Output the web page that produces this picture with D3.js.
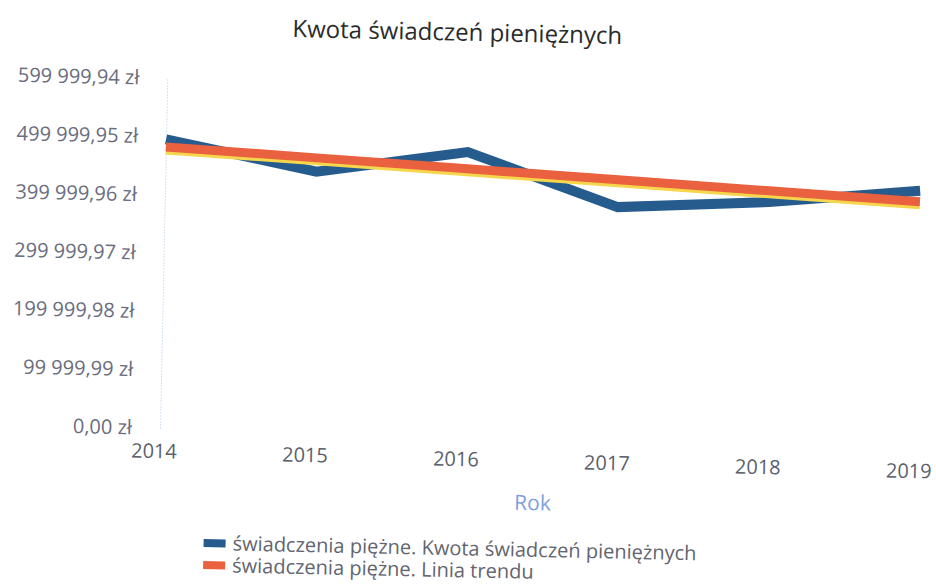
<!DOCTYPE html>
<html>
<head>
<meta charset="utf-8">
<script src="https://cdn.jsdelivr.net/npm/d3@7"></script>
<style>
  html, body { margin: 0; padding: 0; background: #fff; }
  svg { display: block; font-family: 'Open Sans', 'Noto Sans', sans-serif; }
</style>
</head>
<body>
<svg id="chart" width="936" height="585"></svg>
<script>
const years = [2014, 2015, 2016, 2017, 2018, 2019];
const kwota = [495000, 445000, 484000, 395000, 409000, 434000];
const trend = [482000, 468600, 455200, 441800, 428400, 415000];
const yTicks = [0, 99999.99, 199999.98, 299999.97, 399999.96, 499999.95, 599999.94];

const chartTitle = 'Kwota świadczeń pieniężnych';
const xTitle = 'Rok';
const legendLabels = [
  'świadczenia piężne. Kwota świadczeń pieniężnych',
  'świadczenia piężne. Linia trendu'
];

const blue = '#255b8d';
const orange = '#e9613f';

const pl = d3.formatLocale({
  decimal: ',',
  thousands: ' ',
  grouping: [3],
  currency: ['', ' zł']
});
const fmt = pl.format('$,.2f');

const svg = d3.select('#chart');

// the scan is tilted a bit, so the whole chart is turned round the origin
const root = svg.append('g').attr('transform', 'rotate(1.2,160,428)');

const xScale = d3.scaleLinear().domain([2014, 2019]).range([160, 915]);
const yScale = d3.scaleLinear().domain([0, 599999.94]).range([428, 78]);

root.append('text')
  .attr('x', 449)
  .attr('y', 26)
  .attr('dy', '0.35em')
  .attr('text-anchor', 'middle')
  .attr('font-size', 24)
  .attr('fill', '#2b2b2b')
  .text(chartTitle);

// y axis
const yAxis = d3.axisLeft(yScale)
  .tickValues(yTicks)
  .tickFormat(fmt)
  .tickSize(0)
  .tickPadding(28);

const gy = root.append('g')
  .attr('transform', `translate(${xScale(2014)},0)`)
  .call(yAxis);
gy.select('.domain')
  .attr('stroke', '#a9c3e6')
  .attr('stroke-dasharray', '1,2');
gy.selectAll('text')
  .attr('font-size', 20)
  .attr('fill', '#6a6d7e')
  .attr('font-family', "'Open Sans', sans-serif");

// x axis
const xAxis = d3.axisBottom(xScale)
  .tickValues(years)
  .tickFormat(d3.format('d'))
  .tickSize(0)
  .tickPadding(16);

const gx = root.append('g')
  .attr('transform', `translate(0,${yScale(0)})`)
  .call(xAxis);
gx.select('.domain').remove();
gx.selectAll('text')
  .attr('dx', -6)
  .attr('dy', (d, i) => `${0.71 + i * 0.04}em`)
  .attr('font-size', 20)
  .attr('fill', '#5c5f6e')
  .attr('font-family', "'Open Sans', sans-serif");

root.append('text')
  .attr('x', 534)
  .attr('y', 495)
  .attr('dy', '0.35em')
  .attr('text-anchor', 'middle')
  .attr('font-size', 21)
  .attr('fill', '#7f9fdc')
  .text(xTitle);

// lines
const line = d3.line()
  .x((d, i) => xScale(years[i]))
  .y((d) => yScale(d));

root.append('path')
  .datum(kwota)
  .attr('fill', 'none')
  .attr('stroke', blue)
  .attr('stroke-width', 10)
  .attr('stroke-linejoin', 'miter')
  .attr('d', line);

// yellow fringe from the scan under the trend line
root.append('path')
  .datum(trend)
  .attr('fill', 'none')
  .attr('stroke', '#f6d64c')
  .attr('stroke-width', 9)
  .attr('transform', 'translate(0,3)')
  .attr('d', line);

root.append('path')
  .datum(trend)
  .attr('fill', 'none')
  .attr('stroke', orange)
  .attr('stroke-width', 9)
  .attr('d', line);

// legend
const legend = root.append('g').attr('transform', 'translate(206,542)');
const legendColors = [blue, orange];

legendLabels.forEach((label, i) => {
  const row = legend.append('g').attr('transform', `translate(0,${i * 22})`);
  row.append('rect')
    .attr('x', 0)
    .attr('y', -4)
    .attr('width', 22)
    .attr('height', 8)
    .attr('fill', legendColors[i]);
  row.append('text')
    .attr('x', 29)
    .attr('y', 0)
    .attr('dy', '0.35em')
    .attr('font-size', 20)
    .attr('fill', '#62656f')
    .text(label);
});
</script>
</body>
</html>
